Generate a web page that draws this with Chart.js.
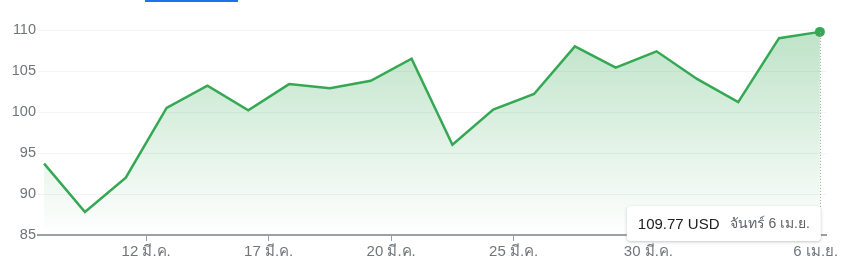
<!DOCTYPE html>
<html>
<head>
<meta charset="utf-8">
<script src="https://cdn.jsdelivr.net/npm/chart.js@4/dist/chart.umd.min.js"></script>
<style>
  html, body { margin: 0; padding: 0; background: #fff; }
  #wrap { position: relative; width: 857px; height: 270px; }
  #tab { position: absolute; left: 145px; top: 0; width: 93px; height: 2px; background: #1a73e8; }
</style>
</head>
<body>
<div id="wrap">
  <canvas id="grafico" width="857" height="270"></canvas>
  <div id="tab"></div>
</div>
<script>
// วันที่ซื้อขาย (มี.ค. - เม.ย.)
const dias = ['10 มี.ค.', '11 มี.ค.', '12 มี.ค.', '13 มี.ค.', '16 มี.ค.', '17 มี.ค.', '18 มี.ค.',
    '19 มี.ค.', '20 มี.ค.', '23 มี.ค.', '24 มี.ค.', '25 มี.ค.', '26 มี.ค.', '27 มี.ค.',
    '30 มี.ค.', '31 มี.ค.', '1 เม.ย.', '2 เม.ย.', '3 เม.ย.', '6 เม.ย.'];
const precos = [93.7, 87.8, 92.0, 100.5, 103.2, 100.2, 103.4, 102.9, 103.8, 106.5,
    96.0, 100.3, 102.2, 108.0, 105.4, 107.4, 104.0, 101.2, 109.0, 109.77];
const rotulosX = ['12 มี.ค.', '17 มี.ค.', '20 มี.ค.', '25 มี.ค.', '30 มี.ค.', '6 เม.ย.'];
const posRotulosX = [2.5, 5.5, 8.5, 11.5, 14.8, 18.9];
const ticksY = [85, 90, 95, 100, 105, 110];
const moeda = 'USD';
const diaSemana = 'จันทร์';

const verde = '#34a853';
const cinza = '#70757a';
const fonte = 'Arial, "Liberation Sans", sans-serif';
const ultimo = precos.length - 1;

// linha pontilhada + caixa do último valor
const marcador = {
    id: 'marcador',
    afterDatasetsDraw(chart) {
        const ctx = chart.ctx;
        const ponto = chart.getDatasetMeta(0).data[ultimo];
        const base = chart.scales.y.getPixelForValue(85);
        ctx.save();
        ctx.strokeStyle = '#9aa0a6';
        ctx.lineWidth = 1;
        ctx.setLineDash([1, 2]);
        ctx.beginPath();
        ctx.moveTo(Math.round(ponto.x) + 0.5, ponto.y);
        ctx.lineTo(Math.round(ponto.x) + 0.5, base);
        ctx.stroke();
        ctx.restore();
    },
    afterDraw(chart) {
        const ctx = chart.ctx;
        const ponto = chart.getDatasetMeta(0).data[ultimo];
        const base = chart.scales.y.getPixelForValue(85);
        const valor = precos[ultimo].toFixed(2) + ' ' + moeda;
        const data = diaSemana + ' ' + dias[ultimo];
        ctx.save();
        ctx.font = '15px ' + fonte;
        const w1 = ctx.measureText(valor).width;
        ctx.font = '14px ' + fonte;
        const w2 = ctx.measureText(data).width;
        const w = w1 + w2 + 32;
        const h = 35;
        const x = ponto.x + 1 - w;
        const y = base + 6 - h;
        ctx.shadowColor = 'rgba(60,64,67,0.3)';
        ctx.shadowBlur = 3;
        ctx.shadowOffsetY = 1;
        ctx.fillStyle = '#fff';
        ctx.beginPath();
        ctx.roundRect(x, y, w, h, 4);
        ctx.fill();
        ctx.shadowColor = 'transparent';
        ctx.textBaseline = 'middle';
        ctx.fillStyle = '#202124';
        ctx.font = '15px ' + fonte;
        ctx.fillText(valor, x + 11, y + h / 2 + 1);
        ctx.fillStyle = '#5f6368';
        ctx.font = '14px ' + fonte;
        ctx.fillText(data, x + 11 + w1 + 10, y + h / 2 + 1);
        ctx.restore();
    }
};

const canvas = document.getElementById('grafico');
new Chart(canvas, {
    type: 'line',
    data: {
        datasets: [{
            data: precos.map((p, i) => ({ x: i, y: p })),
            borderColor: verde,
            borderWidth: 2.5,
            tension: 0,
            fill: 'start',
            backgroundColor(context) {
                const area = context.chart.chartArea;
                if (!area) return 'rgba(52,168,83,0.2)';
                const g = context.chart.ctx.createLinearGradient(0, area.top, 0, area.bottom);
                g.addColorStop(0, 'rgba(52,168,83,0.32)');
                g.addColorStop(1, 'rgba(52,168,83,0)');
                return g;
            },
            pointRadius: ctx => ctx.dataIndex === ultimo ? 5 : 0,
            pointBackgroundColor: verde,
            pointBorderWidth: 0,
            clip: false
        }]
    },
    options: {
        responsive: false,
        animation: false,
        events: [],
        layout: { padding: { top: 30, right: 31, left: 0, bottom: 0 } },
        plugins: { legend: { display: false }, tooltip: { enabled: false } },
        scales: {
            x: {
                type: 'linear',
                min: -0.15,
                max: ultimo + 0.15,
                afterBuildTicks: scale => { scale.ticks = posRotulosX.map(v => ({ value: v })); },
                afterFit: scale => { scale.height = 35; },
                grid: { drawOnChartArea: false, drawTicks: true, tickLength: 6, tickColor: '#9aa0a6', tickWidth: 1 },
                border: { display: true, color: '#9aa0a6', width: 2 },
                ticks: {
                    autoSkip: false,
                    maxRotation: 0,
                    padding: 2,
                    color: cinza,
                    font: { size: 15, family: fonte },
                    callback: (v, i) => rotulosX[i]
                }
            },
            y: {
                min: 85,
                max: 110,
                afterBuildTicks: scale => { scale.ticks = ticksY.map(v => ({ value: v })); },
                afterFit: scale => { scale.width = 38; },
                grid: { color: '#f3f3f3', lineWidth: 1, drawTicks: false },
                border: { display: false },
                ticks: {
                    padding: 2,
                    color: cinza,
                    font: { size: 14.5, family: fonte }
                }
            }
        }
    },
    plugins: [marcador]
});
</script>
</body>
</html>
